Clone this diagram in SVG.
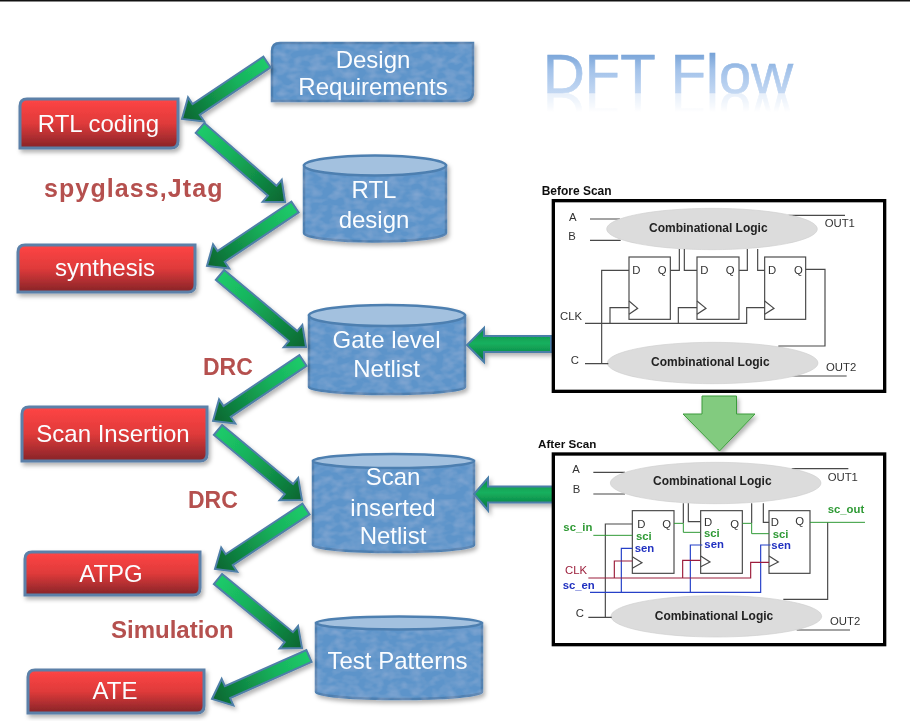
<svg xmlns="http://www.w3.org/2000/svg" width="910" height="721" viewBox="0 0 910 721">
<style>
text{font-family:"Liberation Sans",Arial,sans-serif}
.lbl{font-size:24px;fill:#fbfdff;text-anchor:middle}
.red{fill:url(#redG);stroke:#5b80a8;stroke-width:3}
.blue{fill:#5d94ca;stroke:#4d7fb0;stroke-width:2.5;filter:url(#tex)}
.top{fill:#a3c1df;stroke:#4d7fb0;stroke-width:2.5}
.tool{font-weight:bold;fill:#b5504e}
.arr{fill:url(#arrG);stroke:#4f7fa8;stroke-width:2}
.harr{fill:url(#arrH);stroke:#4a7ea8;stroke-width:2}
.w{fill:none;stroke:#484848;stroke-width:3.5}
.gw{fill:none;stroke:#2f9a35;stroke-width:3}
.bw{fill:none;stroke:#2540c8;stroke-width:3.5}
.rw{fill:none;stroke:#9c1f3c;stroke-width:3.5}
.ff{fill:#fff;stroke:#484848;stroke-width:3.5}
.cl{fill:#dcdcdc;stroke:#cfcfcf;stroke-width:2}
.t{font-size:34px;fill:#333}
.cb{font-size:36px;font-weight:bold;fill:#222;text-anchor:middle}
.g{font-size:34px;font-weight:bold;fill:#2f9a35}
.b{font-size:34px;font-weight:bold;fill:#2030c0}
.panel{fill:#fff;stroke:#000;stroke-width:10}
</style>
<defs>
<linearGradient id="redG" x1="0" y1="0" x2="0" y2="1"><stop offset="0" stop-color="#ff4545"/><stop offset=".5" stop-color="#df3a3a"/><stop offset="1" stop-color="#862428"/></linearGradient>
<linearGradient id="arrG" x1="0" y1="0" x2="1" y2="0"><stop offset="0" stop-color="#1dcb6a"/><stop offset=".35" stop-color="#17b25c"/><stop offset="1" stop-color="#0a6530"/></linearGradient>
<linearGradient id="arrH" x1="0" y1="0" x2="0" y2="1"><stop offset="0" stop-color="#0d8a45"/><stop offset=".45" stop-color="#14b05e"/><stop offset="1" stop-color="#0b7038"/></linearGradient>
<linearGradient id="titleG" x1="0" y1="0" x2="0" y2="1"><stop offset="0" stop-color="#5a8ecb"/><stop offset=".45" stop-color="#a4c3ea"/><stop offset="1" stop-color="#d4e3f7"/></linearGradient>
<linearGradient id="fade" gradientUnits="userSpaceOnUse" x1="0" y1="92" x2="0" y2="112"><stop offset="0" stop-color="#fff" stop-opacity=".4"/><stop offset="1" stop-color="#fff" stop-opacity="0"/></linearGradient>
<mask id="fadeM" maskUnits="userSpaceOnUse" x="530" y="90" width="280" height="30"><rect x="530" y="90" width="280" height="30" fill="url(#fade)"/></mask>
<filter id="sh" x="-10%" y="-10%" width="125%" height="130%"><feDropShadow dx="2" dy="3" stdDeviation="2" flood-color="#000" flood-opacity=".3"/></filter>
<filter id="soft" x="-2%" y="-2%" width="104%" height="104%"><feGaussianBlur stdDeviation="0.35"/></filter>
<filter id="tex" x="-5%" y="-5%" width="110%" height="110%">
<feTurbulence type="fractalNoise" baseFrequency=".09 .14" numOctaves="2" seed="4" result="n"/>
<feColorMatrix in="n" type="matrix" values="0 0 0 0 1  0 0 0 0 1  0 0 0 0 1  .22 0 0 0 -.08" result="a"/>
<feComposite in="a" in2="SourceAlpha" operator="in" result="m"/>
<feMerge><feMergeNode in="SourceGraphic"/><feMergeNode in="m"/></feMerge>
</filter>
</defs>
<rect width="910" height="721" fill="#fff"/>
<rect width="910" height="1.5" fill="#111"/>

<g id="title">
<text id="titleText" x="543" y="93" font-size="56" fill="url(#titleG)" stroke="url(#titleG)" stroke-width=".6" textLength="250" lengthAdjust="spacingAndGlyphs">DFT Flow</text>
<g mask="url(#fadeM)"><use href="#titleText" transform="translate(0 186) scale(1 -1)"/></g>
</g>

<g id="design-req" filter="url(#sh)"><path class="blue" d="M280,43H473V92Q473,101 464,101H272V51Q272,43 280,43Z"/><text class="lbl" x="373" y="68">Design</text><text class="lbl" x="373" y="95">Requirements</text></g>
<g id="rtl-coding" filter="url(#sh)"><path class="red" d="M27,99H178V141Q178,148 171,148H20V106Q20,99 27,99Z"/><text class="lbl" x="98.500" y="132">RTL coding</text></g>
<g id="synthesis" filter="url(#sh)"><path class="red" d="M25,245H195V285Q195,292 188,292H18V252Q18,245 25,245Z"/><text class="lbl" x="105" y="276">synthesis</text></g>
<g id="scan-insertion" filter="url(#sh)"><path class="red" d="M29,407H207V454Q207,461 200,461H22V414Q22,407 29,407Z"/><text class="lbl" x="113" y="442">Scan Insertion</text></g>
<g id="atpg" filter="url(#sh)"><path class="red" d="M32,552H200V588Q200,595 193,595H25V559Q25,552 32,552Z"/><text class="lbl" x="111" y="582">ATPG</text></g>
<g id="ate" filter="url(#sh)"><path class="red" d="M35,670H204V706Q204,713 197,713H28V677Q28,670 35,670Z"/><text class="lbl" x="115" y="699">ATE</text></g>

<g id="rtl-design" filter="url(#sh)"><path class="blue" d="M304,165.500V233A71,8.500 0 0 0 446,233V165.500Z"/><ellipse class="top" cx="375" cy="165.500" rx="71" ry="10"/><text class="lbl" x="374" y="198">RTL</text><text class="lbl" x="374" y="228">design</text></g>
<g id="gate-netlist" filter="url(#sh)"><path class="blue" d="M309,315.500V387A78,7 0 0 0 465,387V315.500Z"/><ellipse class="top" cx="387" cy="315.500" rx="78" ry="10.500"/><text class="lbl" x="386.500" y="348">Gate level</text><text class="lbl" x="386.500" y="377">Netlist</text></g>
<g id="scan-netlist" filter="url(#sh)"><path class="blue" d="M313,461V545A80.500,7 0 0 0 474,545V461Z"/><ellipse class="top" cx="393.500" cy="461" rx="80.500" ry="7"/><text class="lbl" x="393" y="485">Scan</text><text class="lbl" x="393" y="516">inserted</text><text class="lbl" x="393" y="544">Netlist</text></g>
<g id="test-patterns" filter="url(#sh)"><path class="blue" d="M316,623V692A83,7 0 0 0 482,692V623Z"/><ellipse class="top" cx="399" cy="623" rx="83" ry="6.500"/><text class="lbl" x="397.500" y="669">Test Patterns</text></g>

<g id="connectors" filter="url(#sh)">
<polygon class="arr" transform="translate(267 62) rotate(146.2)" points="0,-6.500 85.300,-6.500 85.300,-14.500 102.300,0 85.300,14.500 85.300,6.500 0,6.500"/>
<polygon class="arr" transform="translate(200 128) rotate(41)" points="0,-6.500 95.700,-6.500 95.700,-14.500 112.700,0 95.700,14.500 95.700,6.500 0,6.500"/>
<polygon class="arr" transform="translate(295 207) rotate(146.2)" points="0,-6.500 88.900,-6.500 88.900,-14.500 105.900,0 88.900,14.500 88.900,6.500 0,6.500"/>
<polygon class="arr" transform="translate(220 275) rotate(39.9)" points="0,-6.500 95.200,-6.500 95.200,-14.500 112.200,0 95.200,14.500 95.200,6.500 0,6.500"/>
<polygon class="arr" transform="translate(303 360.500) rotate(146.1)" points="0,-6.500 91.400,-6.500 91.400,-14.500 108.400,0 91.400,14.500 91.400,6.500 0,6.500"/>
<polygon class="arr" transform="translate(218 430) rotate(39.8)" points="0,-6.500 92.300,-6.500 92.300,-14.500 109.300,0 92.300,14.500 92.300,6.500 0,6.500"/>
<polygon class="arr" transform="translate(306 509) rotate(146.6)" points="0,-6.500 92,-6.500 92,-14.500 109,0 92,14.500 92,6.500 0,6.500"/>
<polygon class="arr" transform="translate(218 579) rotate(39.4)" points="0,-6.500 91.700,-6.500 91.700,-14.500 108.700,0 91.700,14.500 91.700,6.500 0,6.500"/>
<polygon class="arr" transform="translate(309 656) rotate(156.1)" points="0,-6.500 89.100,-6.500 89.100,-14.500 106.100,0 89.100,14.500 89.100,6.500 0,6.500"/>
<polygon class="harr" points="551,336 484,336 484,328 467,345 484,362 484,352 551,352"/>
<polygon class="harr" points="556.500,486.500 488,486.500 488,478 474,494 488,510.500 488,502.500 556.500,502.500"/>
<polygon fill="#82cb7f" stroke="#3c9b3c" stroke-width="1" points="702,396 736.500,396 736.500,414 755,414 719.500,451 683,414 702,414"/>
</g>

<g id="tool-labels">
<text class="tool" x="44" y="197" font-size="25" letter-spacing="1.100">spyglass,Jtag</text>
<text class="tool" x="203" y="375" font-size="23">DRC</text>
<text class="tool" x="188" y="508" font-size="23">DRC</text>
<text class="tool" x="111" y="638" font-size="24">Simulation</text>
</g>

<g id="before-scan" transform="translate(530 175) scale(.33333)" filter="url(#soft)">
<text x="35" y="60" font-size="36" font-weight="bold" fill="#111">Before Scan</text>
<rect class="panel" x="70" y="77" width="994" height="572"/>
<path class="w" d="M180,132H270M180,196H272M775,121H945M785,603H950"/>
<ellipse class="cl" cx="546" cy="162" rx="316" ry="62"/>
<ellipse class="cl" cx="548" cy="564" rx="316" ry="62"/>
<rect class="ff" x="297" y="246" width="124" height="187"/>
<rect class="ff" x="501" y="246" width="126" height="187"/>
<rect class="ff" x="704" y="246" width="123" height="187"/>
<path class="w" d="M297,286H215V566M165,566H235M421,286H448V222M463,222V286H501M627,286H652V222M683,222V286H704M827,283H885V513H745M165,445H650V398H705M240,445V398H297M445,445V398H501"/>
<path class="w" d="M297,378L323,400L297,418M501,378L528,400L501,418M704,378L732,400L704,418"/>
<g class="t">
<text x="117" y="137">A</text><text x="115" y="195">B</text><text x="884" y="155">OUT1</text><text x="90" y="436">CLK</text><text x="122" y="568">C</text><text x="888" y="589">OUT2</text>
<text x="307" y="298">D</text><text x="383" y="298">Q</text><text x="511" y="298">D</text><text x="587" y="298">Q</text><text x="714" y="298">D</text><text x="792" y="298">Q</text>
</g>
<text class="cb" x="535" y="172">Combinational Logic</text>
<text class="cb" x="541" y="573">Combinational Logic</text>
</g>

<g id="after-scan" transform="translate(530 430) scale(.33333)" filter="url(#soft)">
<text x="24" y="54" font-size="35" font-weight="bold" fill="#111">After Scan</text>
<rect class="panel" x="70" y="72" width="994" height="572"/>
<path class="w" d="M190,127H285M190,192H285M785,116H955M800,600H960"/>
<ellipse class="cl" cx="557" cy="159" rx="316" ry="62"/>
<ellipse class="cl" cx="559" cy="559" rx="316" ry="62"/>
<rect class="ff" x="307" y="242" width="125" height="188"/>
<rect class="ff" x="512" y="242" width="125" height="188"/>
<rect class="ff" x="717" y="242" width="123" height="188"/>
<path class="w" d="M307,282H226V562M175,562H245M460,220V280M475,220V275H512M665,220V280M700,220V277H717M893,277V508H760"/>
<path class="w" d="M307,380L336,398L307,415M512,378L540,396L512,410M717,378L745,396L717,410"/>
<path class="gw" d="M190,316H307M432,280H460V307H512M637,280H665V311H717M840,277H1005"/>
<path class="bw" d="M307,355H274V487M180,487H692V345H722M481,487V345H517"/>
<path class="rw" d="M175,444H662V397H717M253,444V393H307M458,444V391H512"/>
<g class="t">
<text x="127" y="130">A</text><text x="128" y="190">B</text><text x="893" y="153">OUT1</text><text x="900" y="585">OUT2</text><text x="137" y="562">C</text>
<text x="322" y="295">D</text><text x="397" y="295">Q</text><text x="522" y="287">D</text><text x="601" y="295">Q</text><text x="722" y="289">D</text><text x="796" y="285">Q</text>
<text x="105" y="432" fill="#9c1f3c">CLK</text>
</g>
<text class="g" x="100" y="303">sc_in</text><text class="g" x="893" y="248">sc_out</text>
<text class="g" x="318" y="330">sci</text><text class="g" x="522" y="320">sci</text><text class="g" x="728" y="323">sci</text>
<text class="b" x="314" y="366">sen</text><text class="b" x="523" y="355">sen</text><text class="b" x="724" y="358">sen</text><text class="b" x="98" y="478">sc_en</text>
<text class="cb" x="547" y="166">Combinational Logic</text>
<text class="cb" x="552" y="569">Combinational Logic</text>
</g>
</svg>
